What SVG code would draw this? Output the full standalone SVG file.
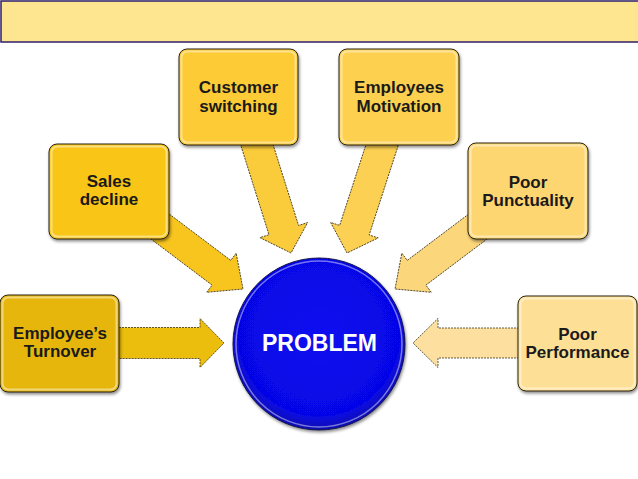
<svg xmlns="http://www.w3.org/2000/svg" width="638" height="479" viewBox="0 0 638 479">
<defs>
<filter id="sh" x="-20%" y="-20%" width="140%" height="140%">
<feDropShadow dx="1" dy="2" stdDeviation="1.5" flood-color="#000" flood-opacity="0.45"/>
</filter>
<radialGradient id="ball" cx="50%" cy="45%" r="55%">
<stop offset="0" stop-color="#0b0bf0"/>
<stop offset="0.85" stop-color="#0606e6"/>
<stop offset="1" stop-color="#1010b0"/>
</radialGradient>
</defs>
<style>
.box{stroke:#2a2410;stroke-width:1;filter:url(#sh)}
.hl{fill:none;stroke:#fff;stroke-opacity:0.45;stroke-width:2}
.arr{stroke:#3a3218;stroke-width:0.8;stroke-dasharray:2 1}
.t{font-family:"Liberation Sans",Arial,sans-serif;font-weight:bold;font-size:17px;fill:#1a1a1a;text-anchor:middle}
.p{font-family:"Liberation Sans",Arial,sans-serif;font-weight:bold;font-size:23px;fill:#fff;text-anchor:middle}
</style>
<rect width="638" height="479" fill="#fff"/>
<rect id="banner" x="1" y="1" width="640" height="41" fill="#fee58f" stroke="#2e1f6b" stroke-width="1.5"/>
<g id="connectors">
<polygon class="arr" fill="#ebbd0c" transform="translate(224,343)" points="-114,-15.5 -24,-15.5 -24,-24.5 0,0 -24,24.5 -24,15.5 -114,15.5"/>
<polygon class="arr" fill="#f8c51f" transform="translate(243,289) rotate(37)" points="-110,-15.5 -27,-15.5 -27,-24.5 0,0 -27,24.5 -27,15.5 -110,15.5"/>
<polygon class="arr" fill="#facb3a" transform="translate(291,253) rotate(72.5)" points="-118,-15.5 -24,-15.5 -24,-25 0,0 -24,25 -24,15.5 -118,15.5"/>
<polygon class="arr" fill="#fcd052" transform="translate(347,253) rotate(108)" points="-118,-15.5 -24,-15.5 -24,-25 0,0 -24,25 -24,15.5 -118,15.5"/>
<polygon class="arr" fill="#fcd67a" transform="translate(395,289) rotate(143)" points="-110,-15.5 -27,-15.5 -27,-24.5 0,0 -27,24.5 -27,15.5 -110,15.5"/>
<polygon class="arr" fill="#fde0a0" transform="translate(413,343) rotate(180)" points="-112,-15 -25,-15 -25,-24.5 0,0 -25,24.5 -25,15 -112,15"/>
</g>
<g id="turnover">
<rect class="box" x="0" y="295" width="119" height="97" rx="8" fill="#e6b60c"/>
<rect class="hl" x="2.5" y="297.5" width="114" height="92" rx="6"/>
<text class="t" x="60" y="339">Employee’s</text>
<text class="t" x="60" y="357">Turnover</text>
</g>
<g id="sales">
<rect class="box" x="49" y="144" width="120" height="95" rx="8" fill="#f9c519"/>
<rect class="hl" x="51.5" y="146.5" width="115" height="90" rx="6"/>
<text class="t" x="109" y="187">Sales</text>
<text class="t" x="109" y="205">decline</text>
</g>
<g id="customer">
<rect class="box" x="179" y="49" width="119" height="96" rx="8" fill="#fdcb35"/>
<rect class="hl" x="181.5" y="51.5" width="114" height="91" rx="6"/>
<text class="t" x="238.5" y="93">Customer</text>
<text class="t" x="238.5" y="112">switching</text>
</g>
<g id="motivation">
<rect class="box" x="339" y="49" width="120" height="96" rx="8" fill="#fdd04f"/>
<rect class="hl" x="341.5" y="51.5" width="115" height="91" rx="6"/>
<text class="t" x="399" y="93">Employees</text>
<text class="t" x="399" y="112">Motivation</text>
</g>
<g id="punctuality">
<rect class="box" x="468" y="143" width="120" height="96" rx="8" fill="#fdd672"/>
<rect class="hl" x="470.5" y="145.5" width="115" height="91" rx="6"/>
<text class="t" x="528" y="188">Poor</text>
<text class="t" x="528" y="206">Punctuality</text>
</g>
<g id="performance">
<rect class="box" x="518" y="296" width="119" height="95" rx="8" fill="#fde096"/>
<rect class="hl" x="520.5" y="298.5" width="114" height="90" rx="6"/>
<text class="t" x="577.5" y="340">Poor</text>
<text class="t" x="577.5" y="358">Performance</text>
</g>
<g id="problem">
<circle cx="319" cy="344" r="86" fill="url(#ball)" stroke="#14144a" stroke-width="1" filter="url(#sh)"/>
<circle cx="319" cy="344" r="83" fill="none" stroke="#fff" stroke-opacity="0.45" stroke-width="1.5"/>
<text class="p" x="319.5" y="351">PROBLEM</text>
</g>
</svg>
